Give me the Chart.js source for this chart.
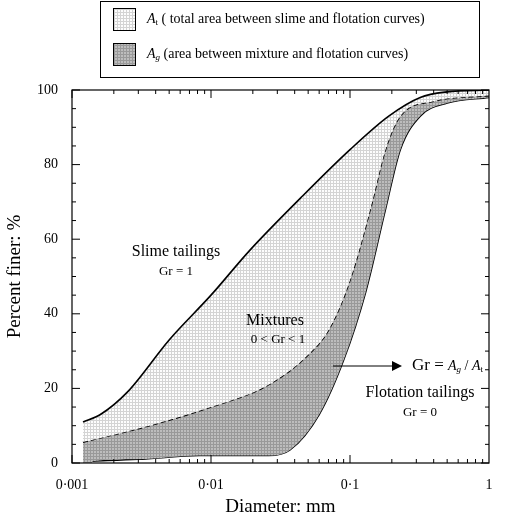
<!DOCTYPE html><html><head><meta charset="utf-8">
<script src="https://cdn.jsdelivr.net/npm/chart.js@4"></script>
<style>body{margin:0;background:#fff}#w{width:520px;height:522px}</style></head><body><div id="w"><canvas id="c"></canvas></div>
<script>
const slimeD=[0.0012,0.0016,0.0025,0.005,0.01,0.019,0.044,0.1,0.19,0.32,0.5,1];
const slimeV=[11,13,19,33,45,57,71,84,93,98,99.5,100];
const mixD=[0.0012,0.0036,0.01,0.026,0.05,0.071,0.1,0.14,0.18,0.23,0.4,1];
const mixV=[5.6,10,15,21,29,36,49,68,84,93,97,98.5];
const floD=[0.0014,0.003,0.0083,0.026,0.037,0.06,0.09,0.13,0.18,0.23,0.32,0.5,1];
const floV=[0.5,1,2,2,3.5,13,27.6,46,68,84,93,96.5,98];
const lowD=[0.0012,0.00139,0.0014,0.003,0.0083,0.026,0.037,0.06,0.09,0.13,0.18,0.23,0.32,0.5,1];
const lowV=[0,0,0.5,1,2,2,3.5,13,27.6,46,68,84,93,96.5,98];
const xTicks=[0.001,0.01,0.1,1];
const xLabels=['0·001','0·01','0·1','1'];
const yTicks=[0,20,40,60,80,100];
const F='"Liberation Serif", "Times New Roman", serif';
function pat(bg,line){const c=document.createElement('canvas');c.width=3;c.height=3;const x=c.getContext('2d');x.fillStyle=bg;x.fillRect(0,0,3,3);x.fillStyle=line;x.fillRect(0,0,3,1);x.fillRect(0,0,1,3);return x.createPattern(c,'repeat');}
const lightP=pat('#fdfdfd','#d4d4d4'), darkP=pat('#bdbdbd','#999999');
const pts=(d,v)=>d.map((x,i)=>({x,y:v[i]}));
const deco={id:'deco',afterDatasetsDraw(ch){const g=ch.ctx,a=ch.chartArea,xs=ch.scales.x,ys=ch.scales.y;
g.save();g.strokeStyle='#000';g.lineWidth=1.2;g.strokeRect(a.left,a.top,a.right-a.left,a.bottom-a.top);
g.lineWidth=1;
for(let e=-3;e<0;e++)for(let m=1;m<10;m++){const v=m*Math.pow(10,e);const p=xs.getPixelForValue(v);const L=m==1?8:4;
g.beginPath();g.moveTo(p,a.bottom);g.lineTo(p,a.bottom-L);g.moveTo(p,a.top);g.lineTo(p,a.top+L);g.stroke();}
for(let v=0;v<=100;v+=5){const p=ys.getPixelForValue(v);const L=v%20==0?8:4;g.beginPath();g.moveTo(a.left,p);g.lineTo(a.left+L,p);g.moveTo(a.right,p);g.lineTo(a.right-L,p);g.stroke();}
g.fillStyle='#000';g.textAlign='center';g.textBaseline='middle';
g.font='16px '+F;g.fillText('Slime tailings',176,252);g.font='13px '+F;g.fillText('Gr = 1',176,272);
g.font='16px '+F;g.fillText('Mixtures',275,321);g.font='13px '+F;g.fillText('0 < Gr < 1',278,340);
g.font='16px '+F;g.fillText('Flotation tailings',420,393);g.font='13px '+F;g.fillText('Gr = 0',420,413);
g.beginPath();g.moveTo(333,366);g.lineTo(395,366);g.stroke();
g.beginPath();g.moveTo(402,366);g.lineTo(392,361);g.lineTo(392,371);g.closePath();g.fill();
g.textAlign='left';let x=412;
const seg=(t,f,dy=0)=>{g.font=f;g.fillText(t,x,366+dy);x+=g.measureText(t).width;};
seg('Gr = ','17px '+F);seg('A','italic 14px '+F);seg('g','italic 9px '+F,4);seg(' / ','14px '+F);seg('A','italic 14px '+F);seg('t','9px '+F,4);
g.lineWidth=1;g.strokeRect(100.5,1.5,379,76);
g.fillStyle=lightP;g.fillRect(113,8,22,22);g.strokeRect(113.5,8.5,22,22);
g.fillStyle=darkP;g.fillRect(113,43,22,22);g.strokeRect(113.5,43.5,22,22);
g.fillStyle='#000';
x=147;const s2=(t,f,y,dy=0)=>{g.font=f;g.fillText(t,x,y+dy);x+=g.measureText(t).width;};
s2('A','italic 14px '+F,19);s2('t','9px '+F,19,4);s2(' ( total area between slime and flotation curves)','14px '+F,19);
x=147;s2('A','italic 14px '+F,54);s2('g','italic 9px '+F,54,4);s2(' (area between mixture and flotation curves)','14px '+F,54);
g.restore();}};
const common={pointRadius:0,cubicInterpolationMode:'monotone'};
new Chart(document.getElementById('c'),{type:'line',data:{datasets:[
{...common,data:pts(slimeD,slimeV),borderColor:'#000',borderWidth:1.6,fill:'+1',backgroundColor:lightP},
{...common,data:pts(mixD,mixV),borderColor:'#000',borderWidth:1.6,borderDash:[5,3],fill:'+1',backgroundColor:darkP},
{...common,data:pts(lowD,lowV),borderWidth:0,borderColor:'rgba(0,0,0,0)',fill:false},
{...common,data:pts(floD,floV),borderColor:'#000',borderWidth:1.6,fill:false}]},
options:{animation:false,responsive:true,maintainAspectRatio:false,layout:{padding:{top:90,right:31,left:0,bottom:0}},
plugins:{legend:{display:false},tooltip:{enabled:false}},
scales:{x:{type:'logarithmic',min:0.001,max:1,grid:{display:false},border:{display:false},
afterBuildTicks:s=>{s.ticks=xTicks.map(v=>({value:v}));},afterFit:s=>{s.height=59;},
ticks:{autoSkip:false,maxRotation:0,color:'#000',font:{family:F,size:14},padding:6,callback:(v)=>{const i=xTicks.indexOf(v);return i>=0?xLabels[i]:'';}},
title:{display:true,text:'Diameter: mm',color:'#000',font:{family:F,size:19},padding:{top:6}}},
y:{min:0,max:100,grid:{display:false},border:{display:false},afterBuildTicks:s=>{s.ticks=yTicks.map(v=>({value:v}));},afterFit:s=>{s.width=72;},
ticks:{color:'#000',font:{family:F,size:14},padding:6},
title:{display:true,text:'Percent finer: %',color:'#000',font:{family:F,size:19},padding:{bottom:4}}}}},
plugins:[deco]});
</script></body></html>
